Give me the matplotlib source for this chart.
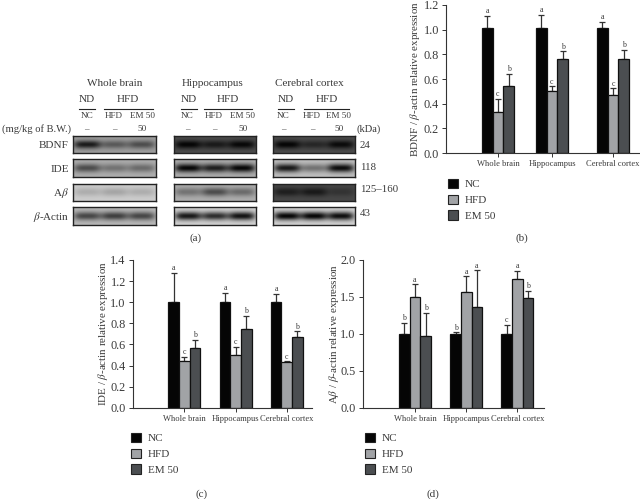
import numpy as np
import matplotlib
matplotlib.use("Agg")
import matplotlib.pyplot as plt
from matplotlib.patches import Patch
from matplotlib.lines import Line2D

plt.rcParams['font.family'] = ['Liberation Serif', 'DejaVu Serif']
plt.rcParams['mathtext.fontset'] = 'stix'

W, H = 640, 499
TEXT = '#3a3a3a'

series = ['NC', 'HFD', 'EM 50']
regions = ['Whole brain', 'Hippocampus', 'Cerebral cortex']
colors = ['#050505', '#a1a3a6', '#4b4e51']

# panel b
b_vals = [[1.01, 1.01, 1.01], [0.33, 0.50, 0.47], [0.545, 0.76, 0.765]]
b_tops = [[1.11, 1.12, 1.065], [0.44, 0.54, 0.525], [0.64, 0.825, 0.835]]
b_lets = [['a', 'a', 'a'], ['c', 'c', 'c'], ['b', 'b', 'b']]
# panel c
c_vals = [[1.0, 1.0, 1.0], [0.44, 0.50, 0.43], [0.57, 0.75, 0.67]]
c_tops = [[1.28, 1.09, 1.08], [0.48, 0.575, 0.44], [0.645, 0.87, 0.725]]
c_lets = [['a', 'a', 'a'], ['c', 'c', 'c'], ['b', 'b', 'b']]
# panel d
d_vals = [[1.0, 1.0, 1.0], [1.5, 1.57, 1.74], [0.97, 1.37, 1.49]]
d_tops = [[1.15, 1.02, 1.12], [1.67, 1.78, 1.85], [1.28, 1.86, 1.58]]
d_lets = [['b', 'b', 'c'], ['a', 'a', 'a'], ['b', 'a', 'b']]

# western blots: background grey, then band grey for NC, HFD, EM 50
blot_rows = ['BDNF', 'IDE', r'A$\beta$', r'$\beta$-Actin']
blot_kda = ['24', '118', '125–160', '43']
blot_bg = [[0.62, 0.30, 0.30], [0.68, 0.68, 0.75], [0.80, 0.68, 0.28], [0.72, 0.82, 0.82]]
blot_bands = [
    [[0.10, 0.35, 0.30], [0.02, 0.10, 0.03], [0.02, 0.15, 0.04]],
    [[0.30, 0.45, 0.42], [0.03, 0.12, 0.03], [0.10, 0.45, 0.05]],
    [[0.68, 0.65, 0.68], [0.45, 0.30, 0.42], [0.12, 0.10, 0.20]],
    [[0.28, 0.25, 0.28], [0.10, 0.18, 0.08], [0.03, 0.03, 0.06]],
]

fig = plt.figure(figsize=(W / 100, H / 100), dpi=100)


def px_axes(left, top, right, bottom):
    return fig.add_axes([left / W, 1 - bottom / H, (right - left) / W, (bottom - top) / H])


def put(x, y, s, size=8, ha='center', **kw):
    fig.text(x / W, 1 - y / H, s, fontsize=size, ha=ha, va='center', color=TEXT, **kw)


def bar_panel(box, centers, vals, tops, lets, ymax, yticks, ylabel, ylab_x, leg_x):
    left, top, right, bottom = box
    ax = px_axes(left, top, right, bottom)
    ax.set_xlim(0, right - left)
    ax.set_ylim(0, ymax)
    width = 10.6
    for i in range(3):
        xs = np.array(centers) + (i - 1) * width
        ax.bar(xs, vals[i], width=width, color=colors[i], edgecolor='#111111', linewidth=0.9, zorder=2)
        err = np.array(tops[i]) - np.array(vals[i])
        ax.errorbar(xs, vals[i], yerr=[np.zeros(3), err], fmt='none', ecolor='#333333',
                    elinewidth=0.9, capsize=2.2, capthick=0.9, zorder=1)
        for x, t, s in zip(xs, tops[i], lets[i]):
            ax.annotate(s, (x, t), xytext=(0, 0.5), textcoords='offset points', ha='center',
                        va='bottom', fontsize=5.8, color=TEXT)
    for s in ['top', 'right']:
        ax.spines[s].set_visible(False)
    for s in ['left', 'bottom']:
        ax.spines[s].set_linewidth(0.8)
        ax.spines[s].set_color('#333333')
    ax.set_xticks(centers)
    ax.set_xticklabels(regions, fontsize=6.1, color=TEXT)
    ax.set_yticks(yticks)
    ax.set_yticklabels(['%.1f' % v for v in yticks], fontsize=8.8, color=TEXT)
    ax.tick_params(axis='both', length=3, width=0.7, color='#333333', pad=2)
    ax.patch.set_alpha(0)
    fig.text(ylab_x / W, 1 - (top + bottom) / 2 / H, ylabel, rotation=90, fontsize=7.9,
             ha='center', va='center', color=TEXT)
    handles = [Patch(facecolor=c, edgecolor='#222222', linewidth=0.8) for c in colors]
    ax.legend(handles, series, loc='upper left', frameon=False, fontsize=8,
              bbox_to_anchor=(leg_x[0] / W, 1 - leg_x[1] / H), bbox_transform=fig.transFigure,
              borderaxespad=0, borderpad=0, handlelength=0.9, handleheight=0.9,
              handletextpad=0.63, labelspacing=0.47, labelcolor=TEXT)
    return ax


bar_panel((446, 5, 640, 153), [52, 106, 167], b_vals, b_tops, b_lets, 1.2,
          [0, 0.2, 0.4, 0.6, 0.8, 1.0, 1.2], r'BDNF / $\beta$-actin relative expression', 415, (448, 179))
bar_panel((132.7, 260, 312, 407.7), [51.6, 103, 154], c_vals, c_tops, c_lets, 1.4,
          [0, 0.2, 0.4, 0.6, 0.8, 1.0, 1.2, 1.4], r'IDE / $\beta$-actin relative expression', 102.5, (131, 433))
bar_panel((362.7, 260, 543.5, 407.7), [52.3, 103.6, 154.6], d_vals, d_tops, d_lets, 2.0,
          [0, 0.5, 1.0, 1.5, 2.0], r'A$\beta$ / $\beta$-actin relative expression', 334, (365, 433))

# panel a, the blots
row_y = [(136, 152.7), (159.3, 176.7), (184, 201.3), (207.3, 224.7)]
col_x = [(73.3, 155.7), (173.7, 255.7), (273.3, 355.3)]
xx, yy = np.meshgrid(np.linspace(0, 1, 82), np.linspace(-1, 1, 18))
for r, (y0, y1) in enumerate(row_y):
    for c, (x0, x1) in enumerate(col_x):
        img = np.full(xx.shape, blot_bg[r][c])
        for lane, dark in zip([0.17, 0.5, 0.83], blot_bands[r][c]):
            shape = np.exp(-(yy / 0.5) ** 2) * np.exp(-((xx - lane) / 0.165) ** 4)
            img += (dark - blot_bg[r][c]) * shape
        ax = px_axes(x0, y0, x1, y1)
        ax.imshow(img, cmap='gray', vmin=0, vmax=1, aspect='auto', interpolation='bilinear')
        ax.set_xticks([])
        ax.set_yticks([])
        for s in ax.spines.values():
            s.set_linewidth(1.0)
            s.set_color('#222222')

for x, s in zip([115, 213, 309], regions):
    put(x, 83, s, 8)
for x, s in zip([87, 128, 189, 228, 286, 327], ['ND', 'HFD'] * 3):
    put(x, 100, s, 8)
for x0, x1 in [(79, 95), (104, 153), (181, 197), (204, 252), (278, 294), (304, 349)]:
    fig.add_artist(Line2D([x0 / W, x1 / W], [1 - 108.5 / H] * 2, color='#222222', linewidth=0.8))
for x, s in zip([87, 114, 142, 187, 214, 243, 283, 312, 339], series * 3):
    put(x, 116, s, 6.6)
for x, s in zip([86, 114, 142, 187, 214, 243, 283, 312, 339], ['–', '–', '50'] * 3):
    put(x, 129, s, 6.6)
put(70.7, 129, '(mg/kg of B.W.)', 7.6, ha='right')
put(369, 129, '(kDa)', 7.6)
for y, s in zip([145, 169, 193, 217], blot_rows):
    put(69, y, s, 8, ha='right')
for y, s in zip([145, 168, 190, 214], blot_kda):
    put(360, y, s, 7.8, ha='left')

for x, y, s in [(196, 238, '(a)'), (522, 238, '(b)'), (202, 494, '(c)'), (433, 494, '(d)')]:
    put(x, y, s, 8)

fig.savefig('out.png', dpi=100)
